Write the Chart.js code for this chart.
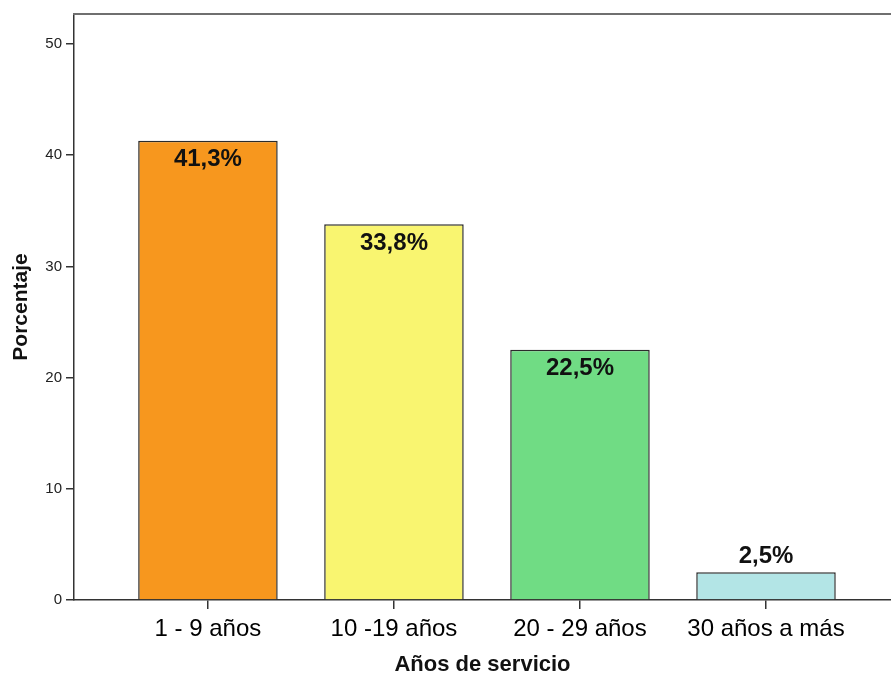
<!DOCTYPE html>
<html>
<head>
<meta charset="utf-8">
<title>Años de servicio</title>
<script src="https://cdn.jsdelivr.net/npm/chart.js@4/dist/chart.umd.min.js"></script>
<style>
  html, body { margin: 0; padding: 0; background: #ffffff; }
  canvas { display: block; }
</style>
</head>
<body>
<canvas id="chart" width="891" height="678"></canvas>
<script>
// Service-years groups and their share of respondents (%)
const categories = ['1 - 9 años', '10 -19 años', '20 - 29 años', '30 años a más'];
const percentages = [41.3, 33.8, 22.5, 2.5];
const barColors = ['#F7971E', '#F9F570', '#70DC84', '#B3E5E6'];
const yTickValues = [0, 10, 20, 30, 40, 50];
const xAxisTitle = 'Años de servicio';
const yAxisTitle = 'Porcentaje';

const FONT = "'Liberation Sans', Arial, Helvetica, sans-serif";

// Percentage labels: inside the top of tall bars, above short ones
const barValueLabels = {
  id: 'barValueLabels',
  afterDatasetsDraw(chart) {
    const ctx = chart.ctx;
    const meta = chart.getDatasetMeta(0);
    ctx.save();
    ctx.font = 'bold 24px ' + FONT;
    ctx.fillStyle = '#111111';
    ctx.textAlign = 'center';
    ctx.textBaseline = 'middle';
    meta.data.forEach((bar, i) => {
      const v = percentages[i];
      const text = v.toFixed(1).replace('.', ',') + '%';
      const h = bar.base - bar.y;
      const y = h > 40 ? bar.y + 19 : bar.y - 16;
      ctx.fillText(text, bar.x, y);
    });
    ctx.restore();
  }
};

// Upper frame line of the plot area
const topFrame = {
  id: 'topFrame',
  afterDraw(chart) {
    const { ctx, chartArea } = chart;
    ctx.save();
    ctx.strokeStyle = '#6f6f6f';
    ctx.lineWidth = 2;
    ctx.beginPath();
    ctx.moveTo(chartArea.left - 1, chartArea.top);
    ctx.lineTo(chartArea.right, chartArea.top);
    ctx.stroke();
    ctx.restore();
  }
};

new Chart(document.getElementById('chart'), {
  type: 'bar',
  data: {
    datasets: [{
      data: categories.map((c, i) => ({ x: i, y: percentages[i] })),
      backgroundColor: barColors,
      borderColor: '#2b2b2b',
      borderWidth: 1.5,
      categoryPercentage: 1,
      barPercentage: 0.75
    }]
  },
  plugins: [barValueLabels, topFrame],
  options: {
    responsive: false,
    animation: false,
    layout: { padding: { top: 14, right: 0, bottom: 0, left: 0 } },
    plugins: {
      legend: { display: false },
      tooltip: { enabled: false }
    },
    scales: {
      x: {
        type: 'linear',
        offset: false,
        min: -0.72,
        max: 3.672,
        afterBuildTicks(scale) {
          scale.ticks = categories.map((c, i) => ({ value: i }));
        },
        afterFit(scale) { scale.height = 78; },
        grid: {
          offset: false,
          drawOnChartArea: false,
          drawTicks: true,
          tickLength: 9,
          color: '#333333',
          lineWidth: 1.5
        },
        border: { display: true, color: '#333333', width: 1.5 },
        ticks: {
          autoSkip: false,
          maxRotation: 0,
          padding: 6,
          color: '#000000',
          font: { family: FONT, size: 24 },
          callback: (value) => categories[value]
        },
        title: {
          display: true,
          text: xAxisTitle,
          color: '#111111',
          font: { family: FONT, size: 22, weight: 'bold' },
          padding: 0
        }
      },
      y: {
        min: 0,
        max: 52.7,
        afterBuildTicks(scale) {
          scale.ticks = yTickValues.map(v => ({ value: v }));
        },
        afterFit(scale) { scale.width = 74; },
        grid: {
          drawOnChartArea: false,
          drawTicks: true,
          tickLength: 8,
          color: '#333333',
          lineWidth: 1.5
        },
        border: { display: true, color: '#333333', width: 1.5 },
        ticks: {
          padding: 4,
          color: '#222222',
          font: { family: FONT, size: 15 }
        },
        title: {
          display: true,
          text: yAxisTitle,
          color: '#111111',
          font: { family: FONT, size: 21, weight: 'bold' },
          padding: { top: 9, bottom: 0 }
        }
      }
    }
  }
});
</script>
</body>
</html>
